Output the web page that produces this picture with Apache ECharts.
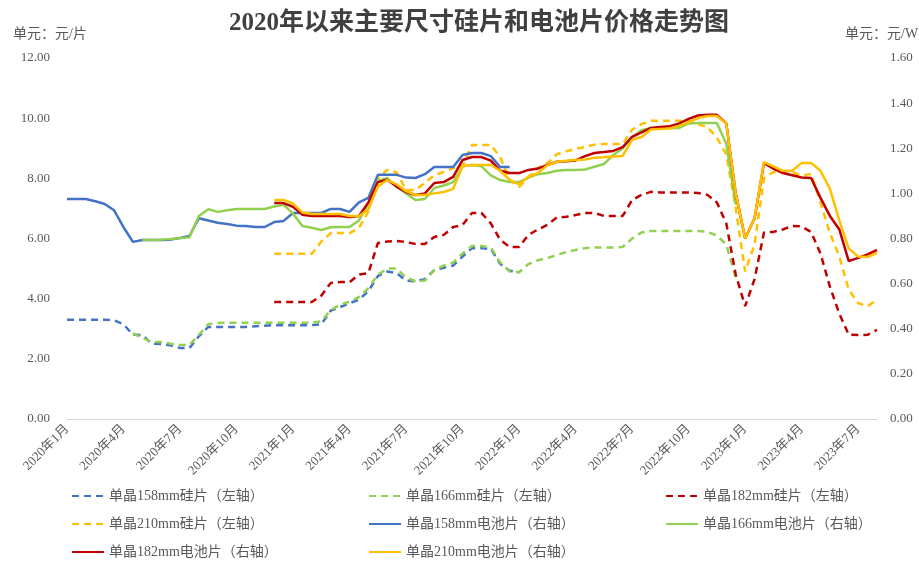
<!DOCTYPE html>
<html>
<head>
	<meta charset="utf-8">
	<title>硅片和电池片价格走势</title>
	<style type="text/css">
		body{
			margin: 0px;
		}
		.chart{
			width: 919px;
			height: 561px;
		}
	</style>
	<script type="text/javascript" src="https://cdn.jsdelivr.net/npm/echarts@6/dist/echarts.min.js"></script>
</head>
<body>
	<div id="chart" class="chart"></div>
	<script type="text/javascript">
		// 半月一个点：2020年1月上 ~ 2023年8月上
		var dates = [];
		for(var y = 2020; y <= 2023; y++){
			for(var m = 1; m <= 12; m++){
				if(y == 2023 && m > 8) break;
				dates.push(y + '/' + m + '/1');
				if(!(y == 2023 && m == 8)) dates.push(y + '/' + m + '/16');
			}
		}

		// 硅片（左轴，元/片）
		var wafer158 = [3.3,3.3,3.3,3.3,3.3,3.28,3.15,2.8,2.79,2.5,2.49,2.45,2.36,2.36,2.75,3.06,3.06,3.06,3.06,3.06,3.08,3.1,3.12,3.12,3.12,3.12,3.12,3.15,3.6,3.72,3.85,3.97,4.25,4.75,4.9,4.85,4.6,4.58,4.65,4.95,5.03,5.1,5.4,5.68,5.68,5.65,5.15,4.93,4.88];
		var wafer166 = [null,null,null,null,null,null,null,2.85,2.7,2.56,2.56,2.5,2.46,2.46,2.8,3.15,3.19,3.2,3.2,3.2,3.2,3.2,3.2,3.2,3.2,3.2,3.2,3.25,3.62,3.8,3.9,4.05,4.35,4.8,5.0,5.0,4.7,4.58,4.6,4.95,5.1,5.2,5.5,5.75,5.75,5.7,5.2,4.9,4.88,5.15,5.28,5.35,5.45,5.55,5.62,5.68,5.7,5.7,5.7,5.72,6.0,6.2,6.25,6.25,6.25,6.25,6.25,6.25,6.22,6.1,5.8,4.7];
		var wafer182 = [null,null,null,null,null,null,null,null,null,null,null,null,null,null,null,null,null,null,null,null,null,null,3.89,3.89,3.89,3.89,3.89,4.1,4.52,4.55,4.55,4.8,4.85,5.85,5.9,5.92,5.88,5.82,5.82,6.05,6.12,6.38,6.45,6.85,6.85,6.5,5.95,5.72,5.72,6.12,6.3,6.45,6.7,6.72,6.78,6.85,6.85,6.75,6.75,6.75,7.28,7.45,7.55,7.53,7.53,7.53,7.53,7.51,7.45,7.2,6.5,4.8,3.75,4.65,6.2,6.22,6.3,6.42,6.4,6.22,5.5,4.4,3.5,2.8,2.79,2.8,2.96];
		var wafer210 = [null,null,null,null,null,null,null,null,null,null,null,null,null,null,null,null,null,null,null,null,null,null,5.49,5.49,5.49,5.49,5.49,5.9,6.18,6.18,6.18,6.35,6.9,8.0,8.28,8.2,7.61,7.61,7.85,8.1,8.21,8.34,8.4,9.11,9.11,9.11,8.7,7.95,7.71,8.05,8.35,8.5,8.8,8.9,8.98,9.04,9.12,9.14,9.14,9.14,9.62,9.8,9.91,9.91,9.91,9.91,9.91,9.8,9.7,9.35,8.8,7.0,4.9,5.8,8.0,8.21,8.21,8.21,8.08,8.15,7.2,6.18,5.4,4.3,3.85,3.75,3.96];

		// 电池片（右轴，元/W）
		var cell158 = [0.975,0.975,0.975,0.965,0.953,0.925,0.85,0.785,0.793,0.793,0.793,0.795,0.802,0.811,0.89,0.88,0.87,0.864,0.857,0.855,0.851,0.851,0.873,0.878,0.913,0.913,0.913,0.913,0.931,0.931,0.918,0.96,0.98,1.082,1.082,1.082,1.07,1.068,1.085,1.117,1.117,1.117,1.17,1.179,1.179,1.165,1.117,1.117];
		var cell166 = [null,null,null,null,null,null,null,null,0.793,0.793,0.795,0.798,0.802,0.805,0.9,0.93,0.918,0.925,0.931,0.931,0.931,0.931,0.942,0.949,0.91,0.855,0.848,0.838,0.85,0.851,0.851,0.88,0.955,1.055,1.068,1.028,1.0,0.971,0.975,1.024,1.035,1.05,1.12,1.126,1.12,1.08,1.059,1.05,1.05,1.07,1.085,1.09,1.1,1.104,1.104,1.106,1.118,1.13,1.17,1.2,1.25,1.28,1.29,1.29,1.29,1.29,1.31,1.312,1.312,1.312,1.22,0.95];
		var cell182 = [null,null,null,null,null,null,null,null,null,null,null,null,null,null,null,null,null,null,null,null,null,null,0.957,0.957,0.94,0.905,0.9,0.9,0.9,0.9,0.895,0.9,0.96,1.05,1.06,1.03,1.006,0.993,1.0,1.046,1.05,1.073,1.148,1.161,1.161,1.145,1.1,1.09,1.09,1.104,1.11,1.126,1.14,1.142,1.146,1.165,1.179,1.183,1.188,1.205,1.25,1.27,1.29,1.294,1.298,1.31,1.33,1.345,1.348,1.348,1.31,1.0,0.8,0.89,1.135,1.11,1.09,1.08,1.07,1.068,0.98,0.9,0.84,0.7,0.714,0.73,0.749];
		var cell210 = [null,null,null,null,null,null,null,null,null,null,null,null,null,null,null,null,null,null,null,null,null,null,0.971,0.971,0.955,0.915,0.909,0.909,0.909,0.909,0.9,0.9,0.93,1.03,1.059,1.04,1.01,0.993,0.993,1.0,1.006,1.02,1.12,1.126,1.126,1.126,1.1,1.06,1.04,1.075,1.09,1.125,1.14,1.145,1.148,1.15,1.158,1.16,1.163,1.166,1.237,1.25,1.283,1.285,1.287,1.3,1.315,1.334,1.343,1.343,1.31,1.0,0.8,0.89,1.139,1.12,1.1,1.1,1.135,1.135,1.1,1.02,0.88,0.755,0.72,0.718,0.736];

		var names = ['单晶158mm硅片（左轴）','单晶166mm硅片（左轴）','单晶182mm硅片（左轴）','单晶210mm硅片（左轴）',
			'单晶158mm电池片（右轴）','单晶166mm电池片（右轴）','单晶182mm电池片（右轴）','单晶210mm电池片（右轴）'];
		var colors = ['#4472C4','#92D050','#C00000','#FFC000'];

		var font = "'Liberation Serif', 'Noto Sans CJK SC', serif";
		var gray = '#595959';

		window.onload = function(){
			var chart = echarts.init(document.getElementById('chart'));

			function line(i, data, axis){
				return {
					name: names[i],
					type: 'line',
					yAxisIndex: axis,
					data: data,
					symbol: 'none',
					smooth: false,
					lineStyle: {
						color: colors[i % 4],
						width: 2.5,
						type: axis == 0 ? [7, 5] : 'solid'
					},
					itemStyle: {color: colors[i % 4]}
				};
			}

			function legend(left, items){
				return {
					orient: 'vertical',
					left: left,
					top: 484,
					height: 120,
					itemWidth: 32,
					itemHeight: 14,
					itemGap: 14,
					data: items,
					itemStyle: {opacity: 0},
					textStyle: {fontFamily: font, fontSize: 14, color: gray}
				};
			}

			chart.setOption({
				backgroundColor: '#ffffff',
				title: [{
					text: '2020年以来主要尺寸硅片和电池片价格走势图',
					left: 224,
					top: 6,
					textStyle: {fontFamily: font, fontSize: 25, fontWeight: 'bold', color: '#404040'}
				}, {
					text: '单元：元/片',
					left: 8,
					top: 22,
					textStyle: {fontFamily: font, fontSize: 14, fontWeight: 'normal', color: gray}
				}, {
					text: '单元：元/W',
					left: 840,
					top: 22,
					textStyle: {fontFamily: font, fontSize: 14, fontWeight: 'normal', color: gray}
				}],
				legend: [
					legend(66, [names[0], names[3], names[6]]),
					legend(363, [names[1], names[4], names[7]]),
					legend(660, [names[2], names[5]])
				],
				grid: {
					left: 67,
					right: 42,
					top: 58,
					bottom: 142
				},
				xAxis: {
					type: 'category',
					data: dates,
					boundaryGap: false,
					axisLine: {lineStyle: {color: '#d9d9d9', width: 1}},
					axisTick: {show: false},
					axisLabel: {
						interval: function(idx){ return idx % 6 == 0; },
						rotate: 45,
						margin: 8,
						fontFamily: font,
						fontSize: 13,
						color: gray,
						formatter: function(v){
							var p = v.split('/');
							return p[0] + '年' + p[1] + '月';
						}
					}
				},
				yAxis: [{
					type: 'value',
					min: 0,
					max: 12,
					interval: 2,
					splitLine: {show: false},
					axisLine: {show: false},
					axisLabel: {
						margin: 17,
						fontFamily: font,
						fontSize: 13,
						color: gray,
						formatter: function(v){ return v.toFixed(2); }
					}
				}, {
					type: 'value',
					min: 0,
					max: 1.6,
					interval: 0.2,
					splitLine: {show: false},
					axisLine: {show: false},
					axisLabel: {
						margin: 13,
						fontFamily: font,
						fontSize: 13,
						color: gray,
						formatter: function(v){ return v.toFixed(2); }
					}
				}],
				series: [
					line(0, wafer158, 0),
					line(1, wafer166, 0),
					line(2, wafer182, 0),
					line(3, wafer210, 0),
					line(4, cell158, 1),
					line(5, cell166, 1),
					line(6, cell182, 1),
					line(7, cell210, 1)
				]
			});
		};
	</script>
</body>
</html>
